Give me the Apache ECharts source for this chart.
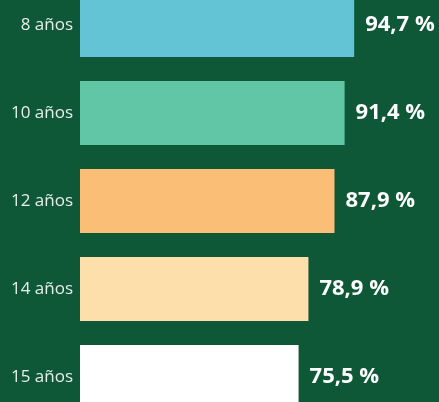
<!DOCTYPE html>
<html>
<head>
<meta charset="utf-8">
<script src="https://cdn.jsdelivr.net/npm/echarts@6/dist/echarts.min.js"></script>
<style>
  html, body { margin: 0; padding: 0; background: #0e5737; overflow: hidden; }
  #chart { width: 439px; height: 440px; margin-top: -19px; }
</style>
</head>
<body>
<div id="chart"></div>
<script>
var categories = ['8 años', '10 años', '12 años', '14 años', '15 años'];
var values = [94.7, 91.4, 87.9, 78.9, 75.5];
var barColors = ['#63c4d5', '#61c6a6', '#fbbe76', '#fddfab', '#ffffff'];

var dom = document.getElementById('chart');
var myChart = echarts.init(dom, null, { renderer: 'canvas' });

var option = {
    backgroundColor: '#0e5737',
    animation: false,
    grid: { left: 80, right: 0, top: 0, bottom: 0, containLabel: false },
    xAxis: {
        type: 'value',
        min: 0,
        max: 124,
        show: false
    },
    yAxis: {
        type: 'category',
        data: categories,
        inverse: true,
        axisLine: { show: false },
        axisTick: { show: false },
        axisLabel: {
            color: '#e6efe8',
            fontFamily: 'Open Sans',
            fontSize: 17,
            margin: 7
        }
    },
    series: [{
        type: 'bar',
        barWidth: 64,
        data: values.map(function (v, i) {
            return { value: v, itemStyle: { color: barColors[i] } };
        }),
        label: {
            show: true,
            position: 'right',
            distance: 11,
            color: '#ffffff',
            fontFamily: 'Open Sans',
            fontWeight: 'bold',
            fontSize: 22,
            formatter: function (p) {
                return p.value.toFixed(1).replace('.', ',') + ' %';
            }
        }
    }]
};

myChart.setOption(option);
window.addEventListener('resize', myChart.resize);
</script>
</body>
</html>
